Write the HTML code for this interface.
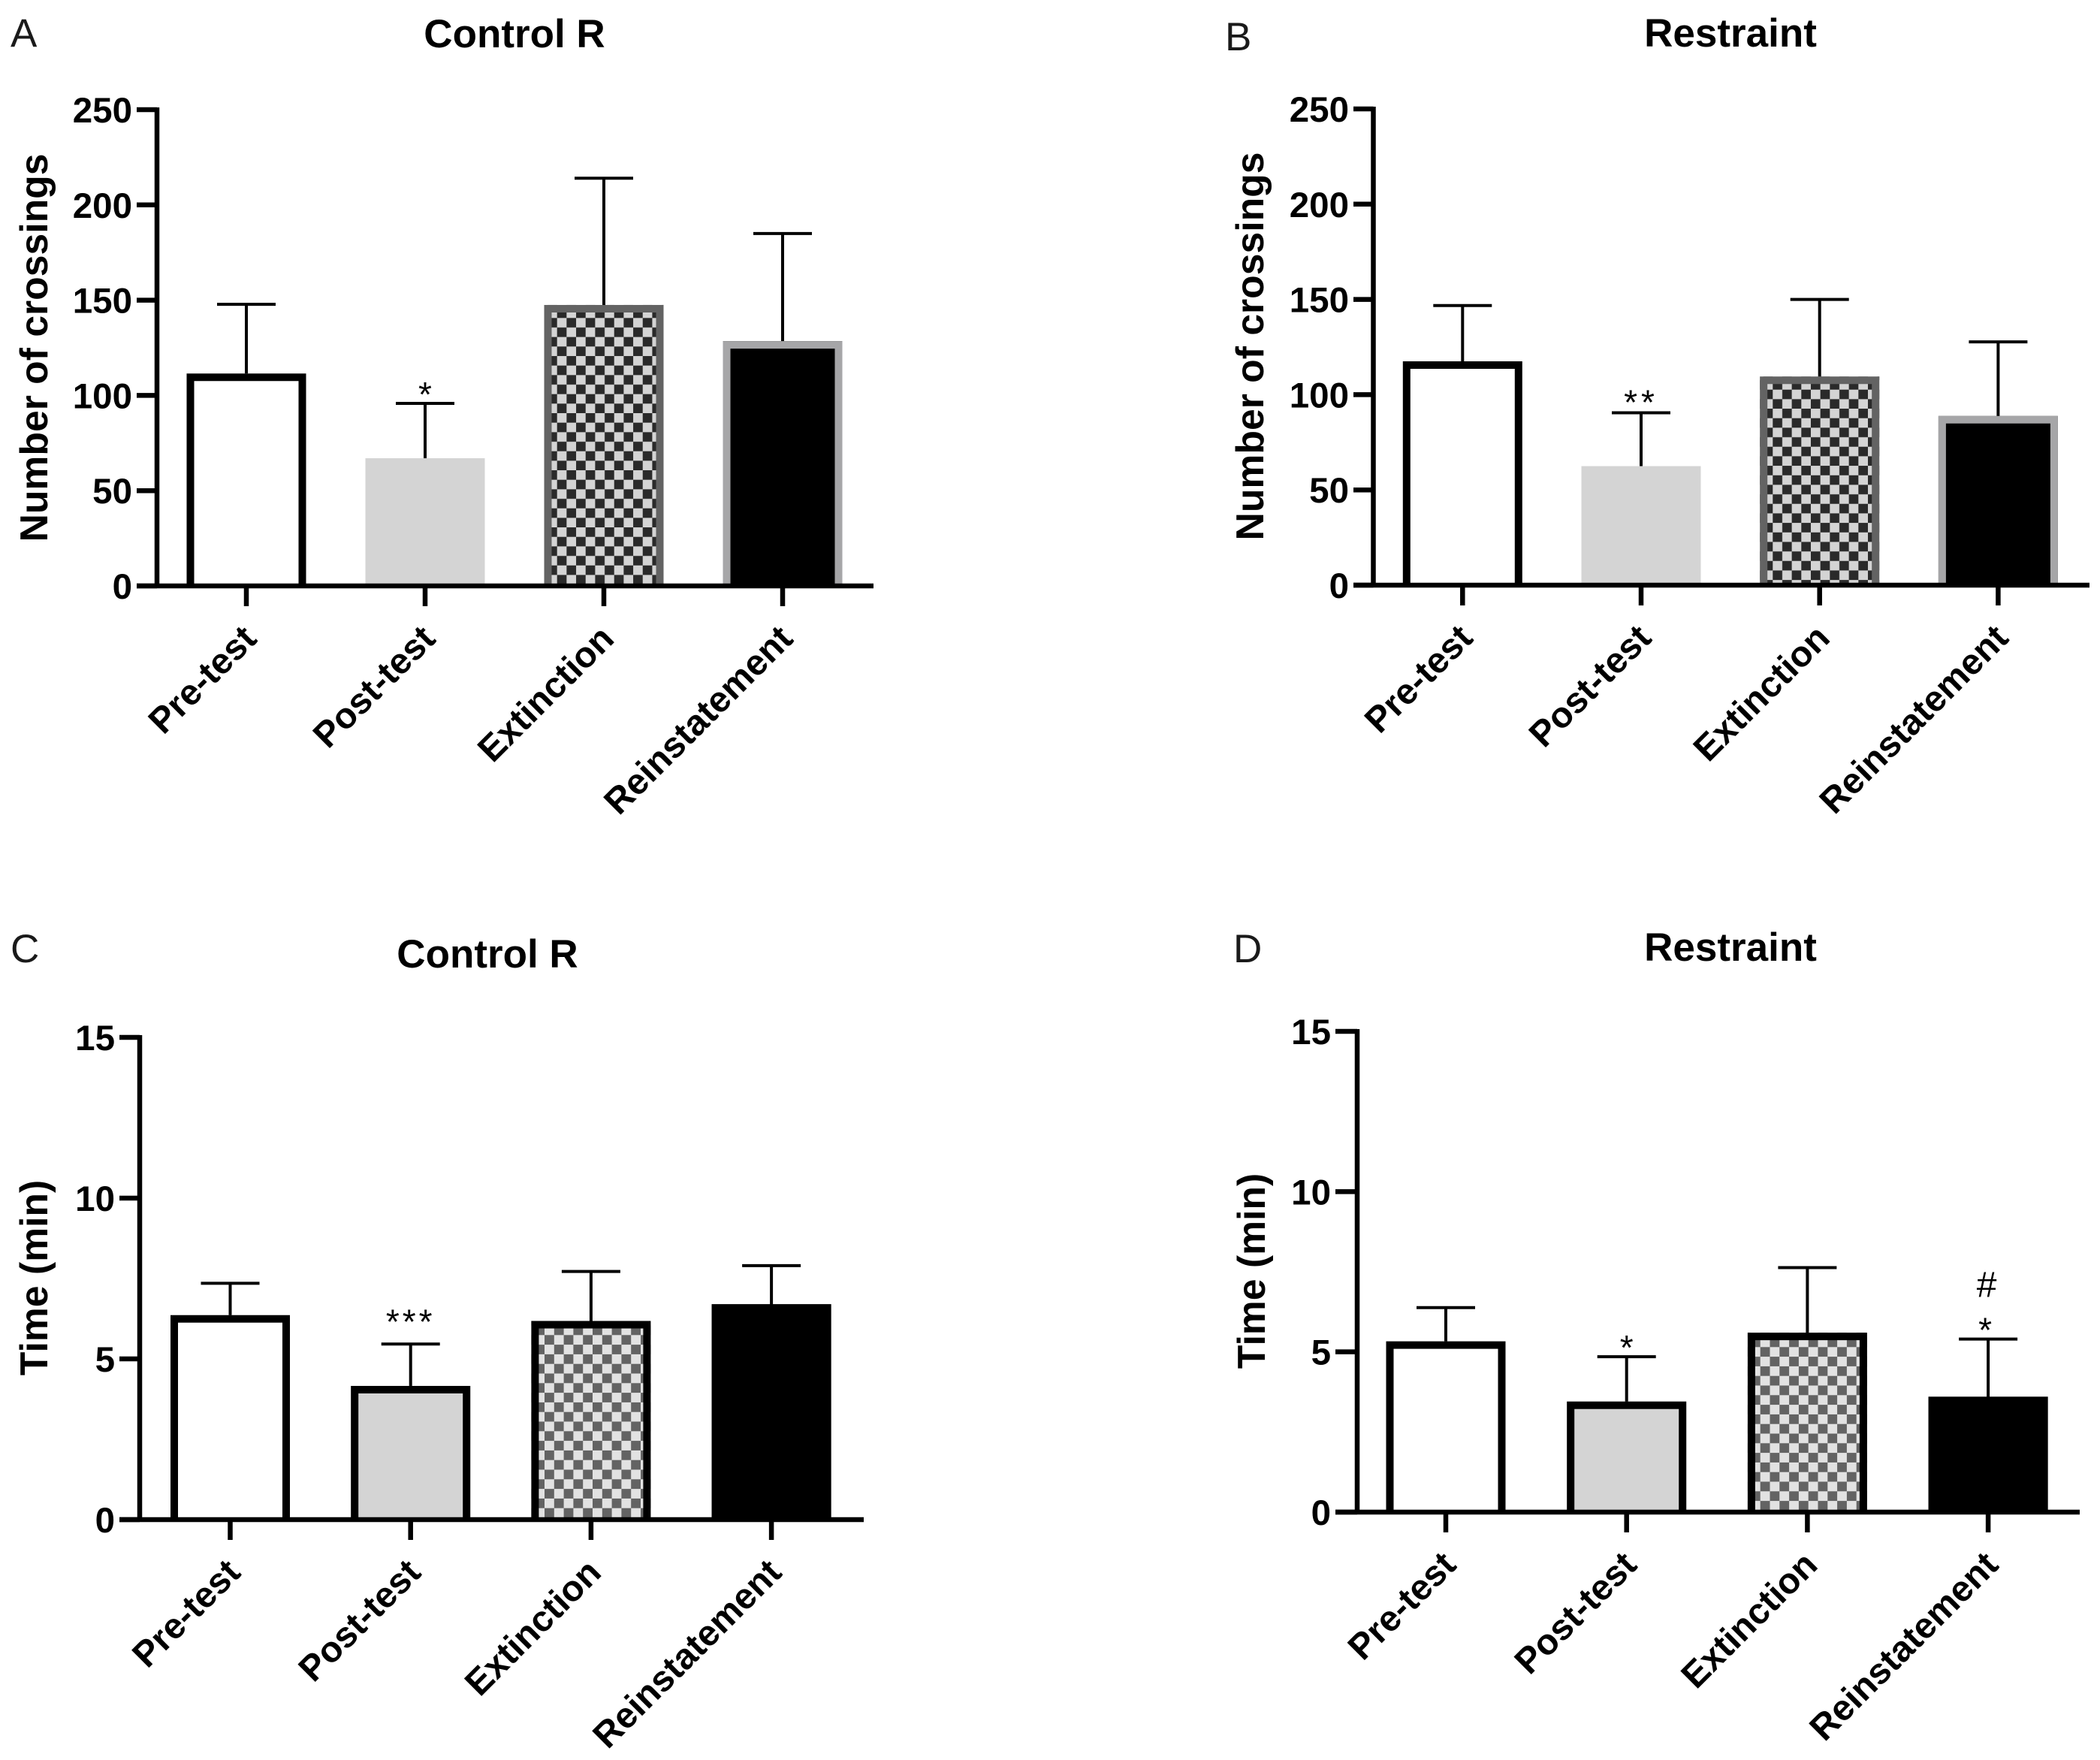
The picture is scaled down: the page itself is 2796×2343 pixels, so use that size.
<!DOCTYPE html>
<html lang="en">
<head>
<meta charset="utf-8">
<title>Crossings and time by test phase</title>
<style>
html,body{margin:0;padding:0;background:#fff;}
svg{display:block;}
text{font-family:"Liberation Sans",Arial,sans-serif;fill:#000;}
.title{font-size:53px;font-weight:700;text-anchor:middle;}
.axt{font-size:51.7px;font-weight:700;text-anchor:middle;}
.letter{font-size:53px;font-weight:400;fill:#1a1a1a;}
.tick{font-size:47.5px;font-weight:700;text-anchor:end;}
.cat{font-size:48px;font-weight:700;text-anchor:end;}
.note{font-size:46px;font-weight:400;text-anchor:middle;}
.hash{font-size:48px;font-weight:400;text-anchor:middle;}
</style>
</head>
<body>
<svg id="fig" xmlns="http://www.w3.org/2000/svg" width="2796" height="2343" viewBox="0 0 2796 2343">
  <defs>
    <pattern id="check-a" patternUnits="userSpaceOnUse" x="741.7" y="423.3" width="25.34" height="25.34">
      <rect width="25.34" height="25.34" fill="#d4d4d4"/>
      <rect x="12.67" width="12.67" height="12.67" fill="#2a2a2a"/>
      <rect y="12.67" width="12.67" height="12.67" fill="#2a2a2a"/>
    </pattern>
    <pattern id="check-b" patternUnits="userSpaceOnUse" x="2360.3" y="518.7" width="25.34" height="25.34">
      <rect width="25.34" height="25.34" fill="#d4d4d4"/>
      <rect x="12.67" width="12.67" height="12.67" fill="#2a2a2a"/>
      <rect y="12.67" width="12.67" height="12.67" fill="#2a2a2a"/>
    </pattern>
    <pattern id="check-c" patternUnits="userSpaceOnUse" x="725" y="1777.3" width="25.6" height="25.6">
      <rect width="25.6" height="25.6" fill="#e2e2e2"/>
      <rect width="12.8" height="12.8" fill="#636363"/>
      <rect x="12.8" y="12.8" width="12.8" height="12.8" fill="#636363"/>
    </pattern>
    <pattern id="check-d" patternUnits="userSpaceOnUse" x="2343.7" y="1793.3" width="25.6" height="25.6">
      <rect width="25.6" height="25.6" fill="#e2e2e2"/>
      <rect width="12.8" height="12.8" fill="#636363"/>
      <rect x="12.8" y="12.8" width="12.8" height="12.8" fill="#636363"/>
    </pattern>
  </defs>
  <rect width="2796" height="2343" fill="#fff"/>

  <g id="panel-a">
    <text class="letter" x="14" y="62">A</text>
    <text class="title" x="685" y="63">Control R</text>
    <text class="axt" transform="translate(63 463) rotate(-90)">Number of crossings</text>
  </g>
  <g id="panel-b">
    <text class="letter" x="1631" y="67">B</text>
    <text class="title" x="2304" y="62">Restraint</text>
    <text class="axt" transform="translate(1682 461) rotate(-90)">Number of crossings</text>
  </g>
  <g id="panel-c">
    <text class="letter" x="14" y="1281">C</text>
    <text class="title" x="649" y="1288">Control R</text>
    <text class="axt" transform="translate(63 1701) rotate(-90)">Time (min)</text>
  </g>
  <g id="panel-d">
    <text class="letter" x="1642" y="1281">D</text>
    <text class="title" x="2304" y="1279">Restraint</text>
    <text class="axt" transform="translate(1684 1692) rotate(-90)">Time (min)</text>
  </g>
</svg>

<script>
// Shared categories and axis ticks
const categories = ['Pre-test', 'Post-test', 'Extinction', 'Reinstatement'];
const crossingTicks = [0, 50, 100, 150, 200, 250];
const timeTicks = [0, 5, 10, 15];

// Panel A: number of crossings, Control R
const panelAMeans = [111.5, 67, 147.5, 128.5];
const panelAErrorTops = [147.8, 95.8, 214, 185];
const panelANotes = ['', '*', '', ''];

// Panel B: number of crossings, Restraint
const panelBMeans = [117.5, 62.5, 109.5, 88.8];
const panelBErrorTops = [146.8, 90.5, 150, 127.7];
const panelBNotes = ['', '**', '', ''];

// Panel C: time, Control R
const panelCMeans = [6.36, 4.16, 6.18, 6.7];
const panelCErrorTops = [7.35, 5.46, 7.72, 7.9];
const panelCNotes = ['', '***', '', ''];

// Panel D: time, Restraint
const panelDMeans = [5.33, 3.45, 5.6, 3.6];
const panelDErrorTops = [6.38, 4.85, 7.63, 5.4];
const panelDNotes = ['', '*', '', '*'];
const panelDHashes = ['', '', '', '#'];

const NS = 'http://www.w3.org/2000/svg';
const BAR_W = 159;
const BORDER = 10;
const AXIS_W = 6.5;

function make(parent, tag, attrs, txt) {
  const el = document.createElementNS(NS, tag);
  for (const k in attrs) el.setAttribute(k, attrs[k]);
  if (txt !== undefined) el.textContent = txt;
  parent.appendChild(el);
  return el;
}

function slug(s) {
  return s.toLowerCase().replace(/[^a-z]+/g, '-');
}

function drawPanel(cfg) {
  const root = document.getElementById(cfg.id);
  const yMax = cfg.ticks[cfg.ticks.length - 1];
  const yScale = function (v) { return cfg.y0 - (v / yMax) * (cfg.y0 - cfg.yTop); };
  const xScale = function (i) { return cfg.x0 + i * cfg.step; };

  // Bars and whiskers
  cfg.means.forEach(function (m, i) {
    const cx = xScale(i);
    const style = cfg.styles[i];
    const name = slug(categories[i]);
    const whTop = yScale(cfg.errorTops[i]);
    const barTop = yScale(m);
    const left = cx - BAR_W / 2;
    const right = cx + BAR_W / 2;

    const stem = make(root, 'line', { x1: cx, x2: cx, y1: whTop, y2: barTop + 2, stroke: '#000', 'stroke-width': 4 });
    
    

    const cap = make(root, 'line', { x1: cx - 39, x2: cx + 39, y1: whTop, y2: whTop, stroke: '#000', 'stroke-width': 4 });
    
    

    const bar = make(root, 'rect', {
      x: left,
      y: barTop,
      width: BAR_W,
      height: Math.max(0, cfg.y0 - barTop),
      fill: style.fill
    });
    
    

    const edge = make(root, 'path', {
      d: 'M' + (left + BORDER / 2) + ' ' + cfg.y0 +
         'V' + (barTop + BORDER / 2) +
         'H' + (right - BORDER / 2) +
         'V' + cfg.y0,
      fill: 'none',
      stroke: style.stroke,
      'stroke-width': BORDER
    });
    
    

    if (cfg.notes[i]) {
      const hasHash = cfg.hashes && cfg.hashes[i];
      const note = make(root, 'text', {
        class: 'note',
        x: cx - (hasHash ? 4 : 0),
        y: whTop - cfg.noteLift + 27,
        'letter-spacing': cfg.noteSpacing
      }, cfg.notes[i]);
      
      
    }
    if (cfg.hashes && cfg.hashes[i]) {
      const hash = make(root, 'text', {
        class: 'hash',
        x: cx - 2,
        y: whTop - cfg.noteLift - 33
      }, cfg.hashes[i]);
      
      
    }
  });

  // Y axis
  const yLine = make(root, 'line', { x1: cfg.axisX, x2: cfg.axisX, y1: cfg.yTop - 3, y2: cfg.y0 + 3, stroke: '#000', 'stroke-width': AXIS_W });
  
  

  cfg.ticks.forEach(function (t) {
    const ty = yScale(t);
    const tk = make(root, 'line', { x1: cfg.tickLeft, x2: cfg.axisX, y1: ty, y2: ty, stroke: '#000', 'stroke-width': AXIS_W });
    
    

    const lb = make(root, 'text', { class: 'tick', x: cfg.tickLeft - 6, y: ty + 17 }, String(t));
    
    
  });

  // X axis
  const xLine = make(root, 'line', { x1: cfg.tickLeft, x2: cfg.xEnd, y1: cfg.y0, y2: cfg.y0, stroke: '#000', 'stroke-width': AXIS_W });
  
  

  categories.forEach(function (c, i) {
    const cx = xScale(i);
    const name = slug(c);
    const tk = make(root, 'line', { x1: cx, x2: cx, y1: cfg.y0, y2: cfg.y0 + 27, stroke: '#000', 'stroke-width': AXIS_W });
    
    

    const lx = cx + 16;
    const ly = cfg.y0 + 73;
    const lb = make(root, 'text', { class: 'cat', x: lx, y: ly, transform: 'rotate(-45 ' + lx + ' ' + ly + ')' }, c);
    
    
  });
}

const plainBorder = { fill: '#fff', stroke: '#000' };
const solidBlack = { fill: '#000', stroke: '#000' };

drawPanel({
  id: 'panel-a', ticks: crossingTicks, means: panelAMeans, errorTops: panelAErrorTops, notes: panelANotes,
  axisX: 209, tickLeft: 182, xEnd: 1163, yTop: 146, y0: 780, x0: 328, step: 238,
  noteLift: 23, noteSpacing: 0,
  styles: [plainBorder, { fill: '#d4d4d4', stroke: '#d4d4d4' }, { fill: 'url(#check-a)', stroke: '#636363' }, { fill: '#000', stroke: '#a6a6a8' }]
});
drawPanel({
  id: 'panel-b', ticks: crossingTicks, means: panelBMeans, errorTops: panelBErrorTops, notes: panelBNotes,
  axisX: 1828.5, tickLeft: 1802, xEnd: 2782, yTop: 145, y0: 779, x0: 1947.3, step: 237.7,
  noteLift: 25, noteSpacing: 5,
  styles: [plainBorder, { fill: '#d4d4d4', stroke: '#d4d4d4' }, { fill: 'url(#check-b)', stroke: '#636363' }, { fill: '#000', stroke: '#a6a6a8' }]
});
drawPanel({
  id: 'panel-c', ticks: timeTicks, means: panelCMeans, errorTops: panelCErrorTops, notes: panelCNotes,
  axisX: 186, tickLeft: 159, xEnd: 1150, yTop: 1381, y0: 2023, x0: 306.5, step: 240.2,
  noteLift: 41, noteSpacing: 4,
  styles: [plainBorder, { fill: '#d4d4d4', stroke: '#000' }, { fill: 'url(#check-c)', stroke: '#000' }, solidBlack]
});
drawPanel({
  id: 'panel-d', ticks: timeTicks, means: panelDMeans, errorTops: panelDErrorTops, notes: panelDNotes, hashes: panelDHashes,
  axisX: 1807, tickLeft: 1778, xEnd: 2769, yTop: 1373, y0: 2013, x0: 1925, step: 240.7,
  noteLift: 23, noteSpacing: 0,
  styles: [plainBorder, { fill: '#d4d4d4', stroke: '#000' }, { fill: 'url(#check-d)', stroke: '#000' }, solidBlack]
});
</script>
</body>
</html>
